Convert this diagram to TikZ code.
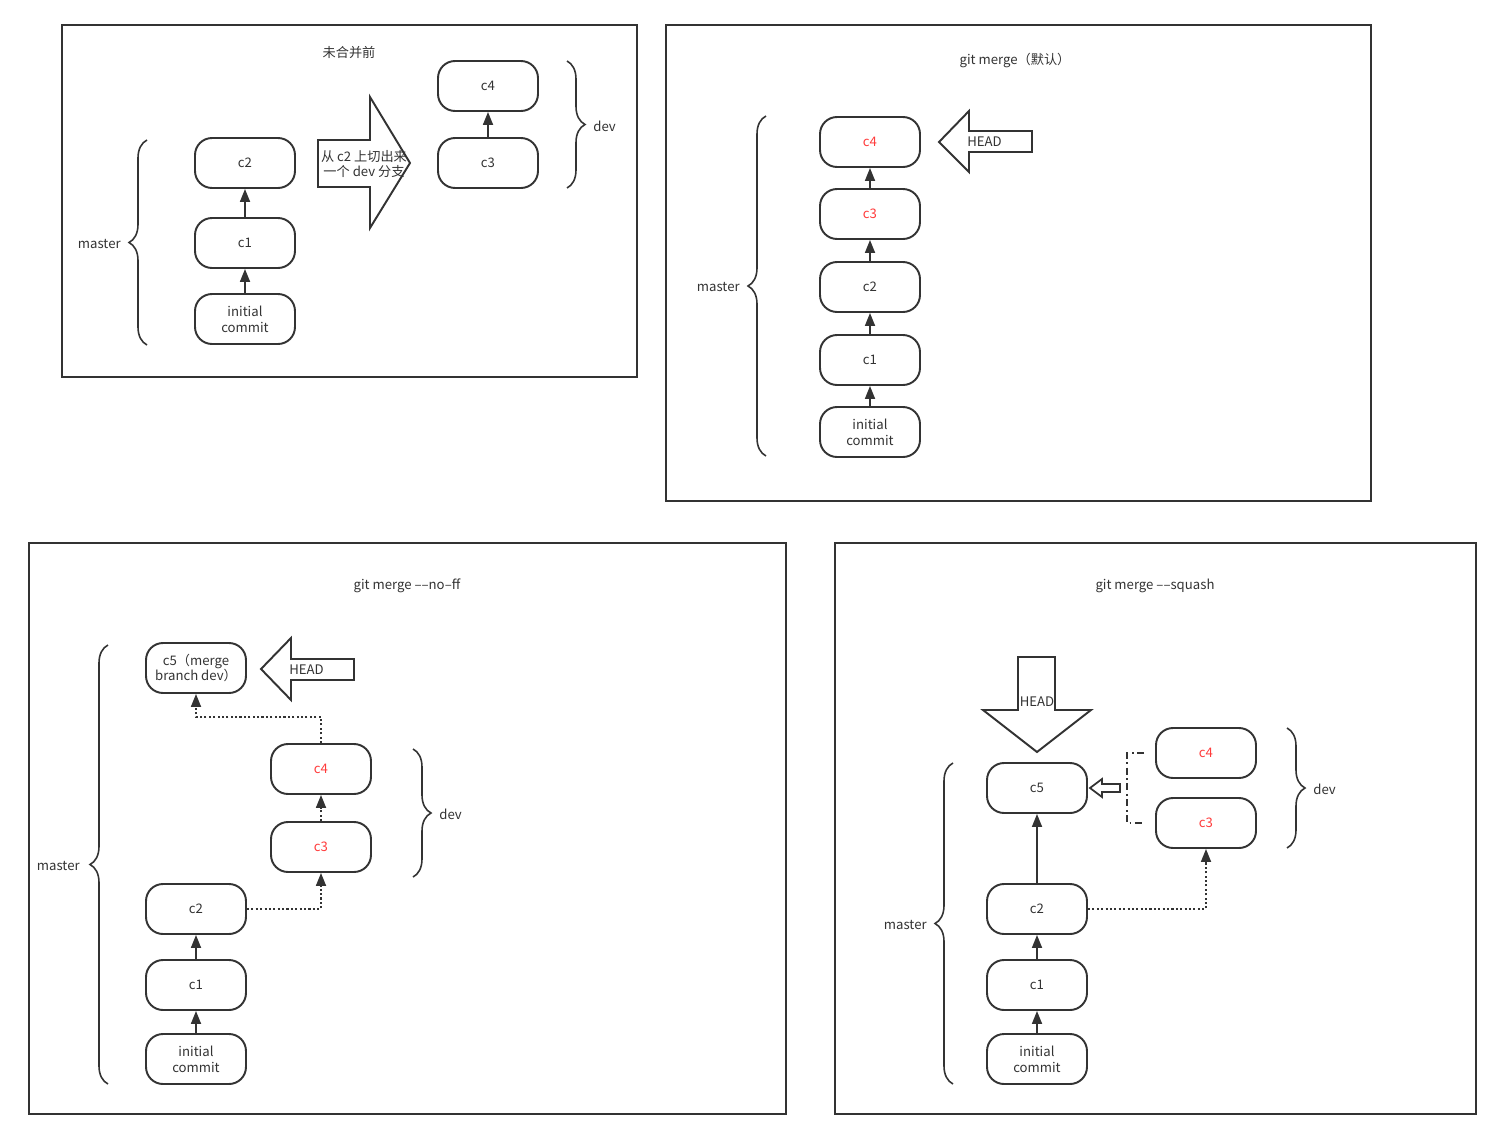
\documentclass[tikz,border=0pt]{standalone}
\usepackage{fontspec}
\setmainfont{Noto Sans CJK SC}
\usetikzlibrary{positioning,arrows.meta,decorations.pathreplacing}
\definecolor{ink}{HTML}{333333}
\definecolor{hot}{HTML}{FF3B3B}

\tikzset{
  frame/.style={draw=ink,line width=1.1pt},
  commit/.style={draw=ink,line width=1.1pt,rounded corners=0.34cm,minimum width=2cm,minimum height=1cm,
    align=center,text=ink,font=\fontsize{7.5}{9}\selectfont,inner sep=1pt},
  devcommit/.style={commit,text=hot},
  title/.style={text=ink,font=\fontsize{7.5}{9}\selectfont},
  lbl/.style={text=ink,font=\fontsize{7.5}{9}\selectfont,inner sep=0pt},
  link/.style={draw=ink,line width=1pt,-{Triangle[length=0.26cm,width=0.2cm]}},
  dlink/.style={link,dash pattern=on 1.2pt off 1.3pt},
  brc/.style={draw=ink,line width=0.9pt,decorate,decoration={brace,amplitude=0.36cm}},
  bigarrow/.style={draw=ink,line width=1.1pt,fill=white,line join=miter}
}

\begin{document}
\begin{tikzpicture}[x=0.02cm,y=-0.02cm]
  \useasboundingbox (0,0) rectangle (1501,1139);

  % before merging
  \draw[frame] (62,25) rectangle (637,377);
  \node[title] (t1) at (349,53) {未合并前};
  \node[commit] (a0) at (245,319) {initial\\commit};
  \node[commit] (a1) at (245,243) {c1};
  \node[commit] (a2) at (245,163) {c2};
  \node[commit] (a3) at (488,163) {c3};
  \node[commit] (a4) at (488,86) {c4};
  \foreach \u/\v in {a0/a1,a1/a2,a3/a4} {\draw[link] (\u) -- (\v);}
  \draw[brc] (147,345) -- (147,140);
  \node[lbl,anchor=east] (m1) at (121,244) {master};
  \draw[brc] (567,61) -- (567,188);
  \node[lbl,anchor=west] (d1) at (593,126) {dev};
  \draw[bigarrow] (318,140) -- (370,140) -- (370,97) -- (410,163) -- (370,228) -- (370,187) -- (318,187) -- cycle;
  \node[lbl,align=center] (cut) at (364,164) {从 c2 上切出来\\一个 dev 分支};

  % git merge (default)
  \draw[frame] (666,25) rectangle (1371,501);
  \node[title] (t2) at (1015,61) {git merge（默认）};
  \node[commit] (b0) at (870,432) {initial\\commit};
  \node[commit] (b1) at (870,360) {c1};
  \node[commit] (b2) at (870,287) {c2};
  \node[devcommit] (b3) at (870,214) {c3};
  \node[devcommit] (b4) at (870,142) {c4};
  \foreach \u/\v in {b0/b1,b1/b2,b2/b3,b3/b4} {\draw[link] (\u) -- (\v);}
  \draw[brc] (766,456) -- (766,116);
  \node[lbl,anchor=east] (m2) at (740,287) {master};
  \draw[bigarrow] (939,142) -- (969,111) -- (969,131) -- (1032,131) -- (1032,152) -- (969,152) -- (969,172) -- cycle;
  \node[lbl,anchor=west] (h2) at (967,142) {HEAD};

  % git merge --no-ff
  \draw[frame] (29,543) rectangle (786,1114);
  \node[title] (t3) at (407,586) {git merge ––no–ff};
  \node[commit] (c0) at (196,1059) {initial\\commit};
  \node[commit] (c1) at (196,985) {c1};
  \node[commit] (c2) at (196,909) {c2};
  \node[devcommit] (c3) at (321,847) {c3};
  \node[devcommit] (c4) at (321,769) {c4};
  \node[commit] (c5) at (196,668) {c5（merge\\branch dev）};
  \foreach \u/\v in {c0/c1,c1/c2} {\draw[link] (\u) -- (\v);}
  \draw[dlink] (c2) -| (c3);
  \draw[dlink] (c3) -- (c4);
  \draw[dlink] (c4.north) -- ++(0,-26) -| (c5.south);
  \draw[brc] (108,1084) -- (108,645);
  \node[lbl,anchor=east] (m3) at (80,866) {master};
  \draw[brc] (413,749) -- (413,877);
  \node[lbl,anchor=west] (d3) at (439,814) {dev};
  \draw[bigarrow] (261,669) -- (291,638) -- (291,659) -- (354,659) -- (354,680) -- (291,680) -- (291,700) -- cycle;
  \node[lbl,anchor=west] (h3) at (289,670) {HEAD};

  % git merge --squash
  \draw[frame] (835,543) rectangle (1476,1114);
  \node[title] (t4) at (1155,586) {git merge ––squash};
  \node[commit] (e0) at (1037,1059) {initial\\commit};
  \node[commit] (e1) at (1037,985) {c1};
  \node[commit] (e2) at (1037,909) {c2};
  \node[commit] (e5) at (1037,788) {c5};
  \node[devcommit] (e3) at (1206,823) {c3};
  \node[devcommit] (e4) at (1206,753) {c4};
  \foreach \u/\v in {e0/e1,e1/e2,e2/e5} {\draw[link] (\u) -- (\v);}
  \draw[dlink] (e2) -| (e3);
  \draw[draw=ink,line width=1pt,dash pattern=on 4pt off 2pt on 1pt off 2pt]
    ([xshift=-0.22cm]e4.west) -- ++(-17,0) |- ([xshift=-0.22cm]e3.west);
  \draw[bigarrow,line width=1pt] (1090,788) -- (1102,779) -- (1102,784) -- (1120,784) -- (1120,792) -- (1102,792) -- (1102,797) -- cycle;
  \draw[brc] (953,1084) -- (953,763);
  \node[lbl,anchor=east] (m4) at (927,925) {master};
  \draw[brc] (1287,728) -- (1287,848);
  \node[lbl,anchor=west] (d4) at (1313,789) {dev};
  \draw[bigarrow] (1018,657) -- (1055,657) -- (1055,710) -- (1091,710) -- (1037,752) -- (983,710) -- (1018,710) -- cycle;
  \node[lbl] (h4) at (1037,702) {HEAD};
\end{tikzpicture}
\end{document}
